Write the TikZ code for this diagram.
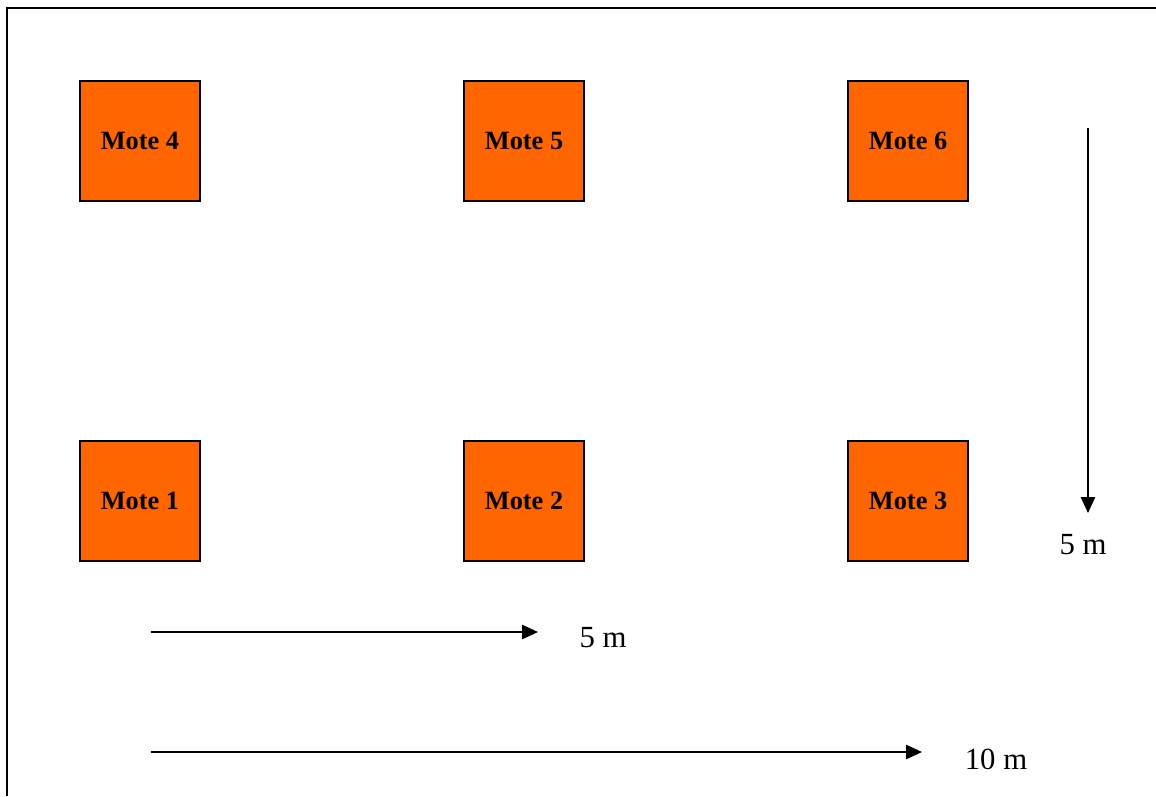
\documentclass[tikz,border=0pt]{standalone}
\usepackage{fontspec}
\setmainfont{Liberation Serif}
\usetikzlibrary{positioning, arrows.meta}
\definecolor{moteorange}{HTML}{FF6600}
\tikzstyle{mote} = [draw, line width=1.2pt, fill=moteorange, minimum size=2.4cm, inner sep=0pt, font=\fontsize{15}{18}\selectfont\bfseries]
\tikzstyle{dist} = [font=\fontsize{17.5}{21}\selectfont]
\tikzstyle{ruler} = [line width=1.2pt, -{Triangle[length=9pt,width=8pt]}]

\begin{document}
\begin{tikzpicture}[x=0.02cm, y=-0.02cm]
        \useasboundingbox (0,0) rectangle (1156,796);
        \draw [line width=1.5pt] (7,796) -- (7,8) -- (1156,8);
        % top row
        \node (m4) [mote] at (140,141) {Mote 4};
        \node (m5) [mote, right=5.24cm of m4] {Mote 5};
        \node (m6) [mote, right=5.24cm of m5] {Mote 6};
        % bottom row
        \node (m1) [mote, below=4.76cm of m4] {Mote 1};
        \node (m2) [mote, right=5.24cm of m1] {Mote 2};
        \node (m3) [mote, right=5.24cm of m2] {Mote 3};
        % distances
        \coordinate (v0) at (1088,128);
        \coordinate (v1) at (1088,513);
        \coordinate (a0) at (151,632);
        \coordinate (a1) at (538,632);
        \coordinate (b0) at (151,752);
        \coordinate (b1) at (922,752);
        \node (dv) [dist] at (1083,545) {5 m};
        \node (da) [dist] at (603,638) {5 m};
        \node (db) [dist] at (996,759) {10 m};
        \draw [ruler] (v0) -- (v1);
        \draw [ruler] (a0) -- (a1);
        \draw [ruler] (b0) -- (b1);
    \end{tikzpicture}
\end{document}
